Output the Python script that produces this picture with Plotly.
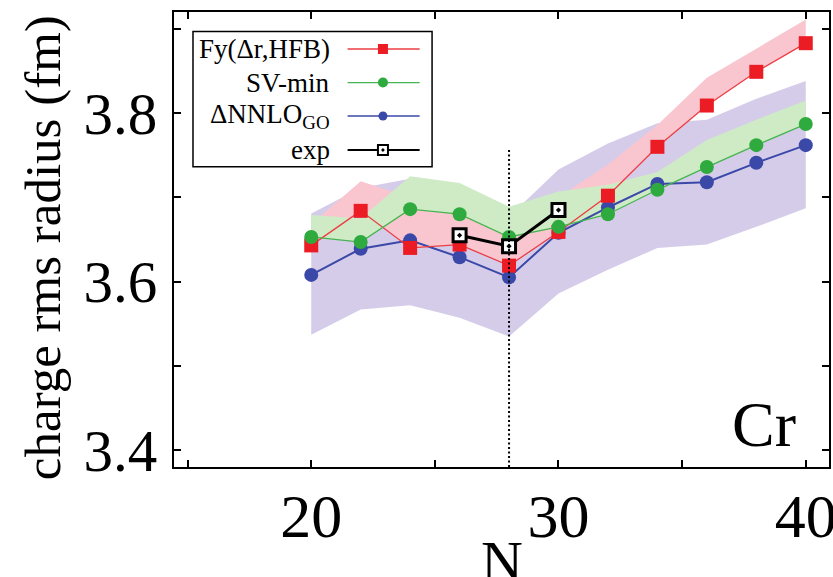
import plotly.graph_objects as go

# ---------------- data ----------------
N = [20, 22, 24, 26, 28, 30, 32, 34, 36, 38, 40]

fy_hfb = [3.643, 3.684, 3.640, 3.644, 3.619, 3.659, 3.702, 3.760, 3.809, 3.849, 3.883]
fy_hfb_upper = [3.668, 3.719, 3.700, 3.700, 3.670, 3.700, 3.739, 3.786, 3.842, 3.876, 3.911]

sv_min = [3.653, 3.647, 3.686, 3.680, 3.653, 3.665, 3.680, 3.709, 3.736, 3.762, 3.787]
sv_min_upper = [3.679, 3.675, 3.725, 3.717, 3.689, 3.707, 3.715, 3.730, 3.768, 3.792, 3.815]

nnlo_go = [3.608, 3.639, 3.649, 3.629, 3.605, 3.658, 3.688, 3.716, 3.718, 3.741, 3.762]
nnlo_go_lower = [3.537, 3.567, 3.572, 3.557, 3.535, 3.586, 3.614, 3.640, 3.644, 3.665, 3.687]
nnlo_go_upper = [3.681, 3.711, 3.722, 3.702, 3.677, 3.733, 3.764, 3.788, 3.792, 3.817, 3.838]

exp_N = [26, 28, 30]
exp_r = [3.655, 3.642, 3.685]

magic_N = 28

x_tickvals = [15, 20, 25, 30, 35, 40]
x_ticktext = [" ", "20", " ", "30", " ", "40"]
y_tickvals = [3.4, 3.5, 3.6, 3.7, 3.8, 3.9]
y_ticktext = ["3.4", " ", "3.6", " ", "3.8", " "]

legend_labels = ["Fy(Δr,HFB)", "SV-min", "ΔNNLO<sub>GO</sub>", "exp"]

# ---------------- style ----------------
RED = "rgb(236,28,36)"
RED_LINE = "rgb(236,60,66)"
GREEN = "rgb(46,170,62)"
GREEN_LINE = "rgb(70,180,80)"
BLUE = "rgb(58,72,168)"
PINK_BAND = "rgb(249,198,208)"
GREEN_BAND = "rgb(206,235,198)"
PURPLE_BAND = "rgb(213,204,233)"
FONT = "Liberation Serif"

fig = go.Figure()


def band(lower, upper, color):
    return go.Scatter(
        x=N + N[::-1], y=upper + lower[::-1], fill="toself", fillcolor=color,
        line=dict(width=0), mode="lines", showlegend=False, hoverinfo="skip")


fig.add_trace(band(nnlo_go_lower, nnlo_go_upper, PURPLE_BAND))
fig.add_trace(band(fy_hfb, fy_hfb_upper, PINK_BAND))
fig.add_trace(band(sv_min, sv_min_upper, GREEN_BAND))

fig.add_trace(go.Scatter(x=N, y=nnlo_go, mode="lines+markers",
                         line=dict(color=BLUE, width=2),
                         marker=dict(symbol="circle", size=14, color=BLUE),
                         showlegend=False))
fig.add_trace(go.Scatter(x=N, y=fy_hfb, mode="lines+markers",
                         line=dict(color=RED_LINE, width=1.3),
                         marker=dict(symbol="square", size=14, color=RED),
                         showlegend=False))
fig.add_trace(go.Scatter(x=N, y=sv_min, mode="lines+markers",
                         line=dict(color=GREEN_LINE, width=1.3),
                         marker=dict(symbol="circle", size=14, color=GREEN),
                         showlegend=False))
fig.add_trace(go.Scatter(x=exp_N, y=exp_r, mode="lines+markers",
                         line=dict(color="black", width=3),
                         marker=dict(symbol="square-dot", size=13, color="white",
                                     line=dict(color="black", width=3)),
                         showlegend=False))

# vertical dotted line at the magic number
fig.add_shape(type="line", xref="x", yref="y", x0=magic_N, x1=magic_N,
              y0=3.38, y1=3.759, line=dict(color="black", width=2, dash="2px,2.5px"),
              layer="above")

# ---------------- manual legend (text left, key right) ----------------
lg_x0, lg_x1, lg_y0, lg_y1 = 0.029, 0.394, 0.660, 0.957
text_right = 0.241
key_x = [0.265, 0.375]
key_mid = 0.319
row_y = [0.9187, 0.845, 0.7714, 0.6967]

fig.add_shape(type="rect", xref="paper", yref="paper", x0=lg_x0, x1=lg_x1,
              y0=lg_y0, y1=lg_y1, line=dict(color="black", width=1.5),
              fillcolor="white", layer="below")

key_styles = [
    dict(line=dict(color=RED_LINE, width=1.3), marker=dict(symbol="square", size=10, color=RED)),
    dict(line=dict(color=GREEN_LINE, width=1.3), marker=dict(symbol="circle", size=10, color=GREEN)),
    dict(line=dict(color=BLUE, width=1.3), marker=dict(symbol="circle", size=9, color=BLUE)),
    dict(line=dict(color="black", width=2), marker=dict(symbol="square-dot", size=10, color="white",
                                                        line=dict(color="black", width=2))),
]
for lab, yy, st in zip(legend_labels, row_y, key_styles):
    fig.add_trace(go.Scatter(x=key_x, y=[yy, yy], xaxis="x2", yaxis="y2", mode="lines",
                             line=st["line"], showlegend=False, hoverinfo="skip"))
    fig.add_trace(go.Scatter(x=[key_mid], y=[yy], xaxis="x2", yaxis="y2", mode="markers",
                             marker=st["marker"], showlegend=False, hoverinfo="skip"))
    fig.add_annotation(xref="paper", yref="paper", x=text_right, y=yy, text=lab,
                       showarrow=False, xanchor="right", yanchor="middle",
                       font=dict(family=FONT, size=27, color="black"))

fig.add_annotation(xref="paper", yref="paper", x=0.953, y=0.011, text="Cr",
                   showarrow=False, xanchor="right", yanchor="bottom",
                   font=dict(family=FONT, size=64, color="black"))

# y-axis title as rotated annotation
fig.add_annotation(xref="paper", yref="paper", x=-0.2, y=0.481,
                   text="charge rms radius (fm)", textangle=-90, showarrow=False,
                   xanchor="center", yanchor="middle",
                   font=dict(family=FONT, size=51, color="black"))

# x-axis title as annotation
fig.add_annotation(xref="paper", yref="paper", x=0.5, y=-0.132,
                   text="N", showarrow=False, xanchor="center", yanchor="top",
                   font=dict(family=FONT, size=58, color="black"))

axis_common = dict(showline=True, linecolor="black", linewidth=2, mirror="ticks",
                   ticks="inside", ticklen=7, tickwidth=2, tickcolor="black",
                   showgrid=False, zeroline=False, automargin=False,
                   ticklabeloverflow="allow")

fig.update_layout(
    width=833, height=577,
    margin=dict(l=174, r=4, t=12, b=110),
    paper_bgcolor="white", plot_bgcolor="white",
    showlegend=False,
    xaxis=dict(range=[14.45, 40.94], tickvals=x_tickvals, ticktext=x_ticktext,
               ticklabelstandoff=-6, tickfont=dict(family=FONT, size=62, color="black"),
               **axis_common),
    yaxis=dict(range=[3.38, 3.92], tickvals=y_tickvals, ticktext=y_ticktext,
               ticklabelstandoff=3, tickfont=dict(family=FONT, size=59, color="black"),
               **axis_common),
    xaxis2=dict(range=[0, 1], overlaying="x", visible=False, domain=[0, 1]),
    yaxis2=dict(range=[0, 1], overlaying="y", visible=False, domain=[0, 1]),
)

fig.write_html("out.html", config={"displayModeBar": False},
               post_script="document.body.style.margin='0px';")
